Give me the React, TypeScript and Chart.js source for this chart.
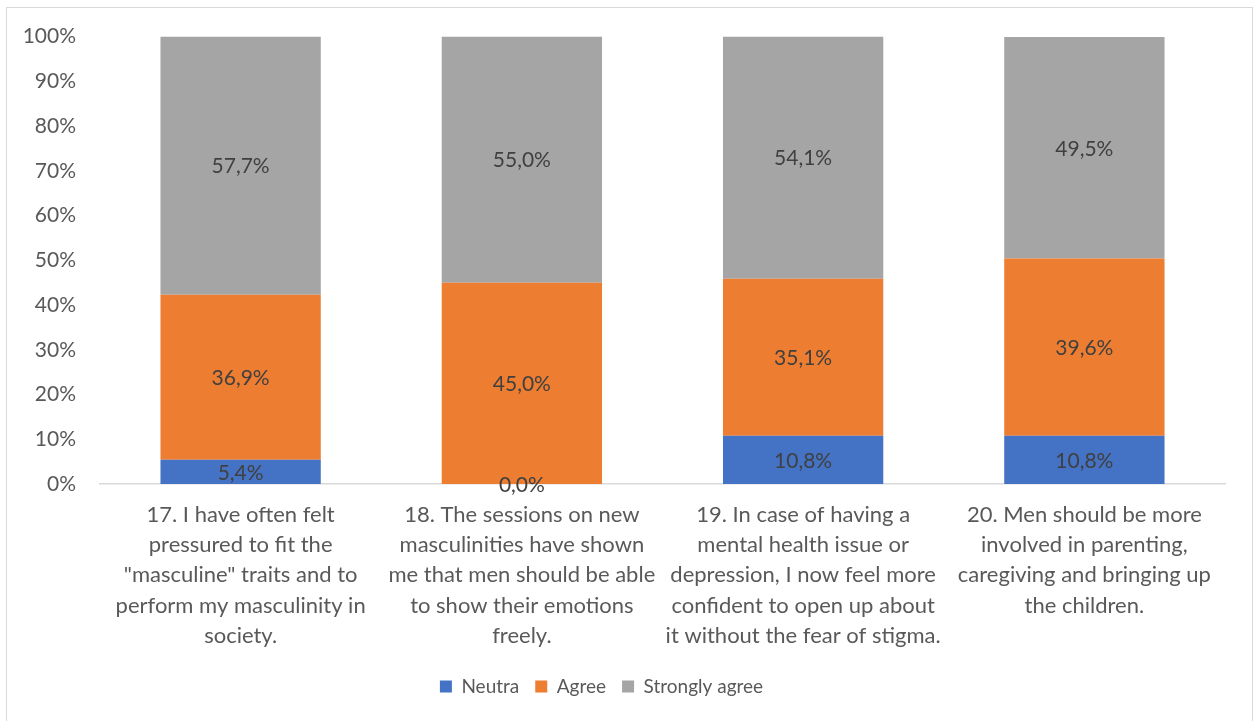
import React, { useEffect, useRef } from "react";
import { Chart, registerables } from "chart.js";

Chart.register(...registerables);

const categories: string[][] = [
  ["17. I have often felt", "pressured to fit the", "\"masculine\" traits and to", "perform my masculinity in", "society."],
  ["18. The sessions on new", "masculinities have shown", "me that men should be able", "to show their emotions", "freely."],
  ["19. In case of having a", "mental health issue or", "depression, I now feel more", "confident to open up about", "it without the fear of stigma."],
  ["20. Men should be more", "involved in parenting,", "caregiving and bringing up", "the children."],
];

const neutra = [5.4, 0.0, 10.8, 10.8];
const agree = [36.9, 45.0, 35.1, 39.6];
const stronglyAgree = [57.7, 55.0, 54.1, 49.5];

const yTicks = [0, 10, 20, 30, 40, 50, 60, 70, 80, 90, 100];

const FONT = "Lato, 'Open Sans', sans-serif";

const dataLabels = {
  id: "dataLabels",
  afterDatasetsDraw(chart: any) {
    const ctx = chart.ctx;
    ctx.save();
    ctx.font = `21px ${FONT}`;
    ctx.fillStyle = "#404040";
    ctx.textAlign = "center";
    ctx.textBaseline = "middle";
    chart.data.datasets.forEach((ds: any, di: number) => {
      const meta = chart.getDatasetMeta(di);
      meta.data.forEach((el: any, i: number) => {
        const v = ds.data[i] as number;
        const cy = (el.y + el.base) / 2;
        ctx.fillText(v.toFixed(1).replace(".", ",") + "%", el.x, cy + 1);
      });
    });
    ctx.restore();
  },
};

const legendShift = {
  id: "legendShift",
  afterLayout(chart: any) {
    const l = chart.legend;
    if (l) {
      l.left -= 11;
      l.right -= 11;
      l.top -= 1;
      l.bottom -= 1;
    }
  },
};

export default function App() {
  const ref = useRef<HTMLCanvasElement>(null);
  useEffect(() => {
    if (!ref.current) return;
    const chart = new Chart(ref.current, {
      type: "bar",
      data: {
        labels: categories,
        datasets: [
          { label: "Neutra", data: neutra, backgroundColor: "#4472C4", borderWidth: 0 },
          { label: "Agree", data: agree, backgroundColor: "#ED7D31", borderWidth: 0 },
          { label: "Strongly agree", data: stronglyAgree, backgroundColor: "#A5A5A5", borderWidth: 0 },
        ],
      },
      options: {
        animation: false,
        responsive: false,
        maintainAspectRatio: false,
        layout: { padding: { left: 0, right: 30, top: 36, bottom: 14 } },
        datasets: { bar: { categoryPercentage: 1, barPercentage: 0.57 } },
        scales: {
          x: {
            stacked: true,
            grid: { display: false, drawTicks: false },
            border: { display: true, color: "#d9d9d9", width: 1.5 },
            ticks: {
              color: "#595959",
              font: { family: FONT, size: 22, lineHeight: 1.37 },
              padding: 16,
              maxRotation: 0,
              autoSkip: false,
            },
            afterFit: (s: any) => { s.height = 178; },
          },
          y: {
            stacked: true,
            min: 0,
            max: 100,
            grid: { display: false, drawTicks: false },
            border: { display: false },
            afterBuildTicks: (s: any) => { s.ticks = yTicks.map((v) => ({ value: v })); },
            ticks: {
              color: "#595959",
              font: { family: FONT, size: 21 },
              padding: 24,
              callback: (v: any) => v + "%",
            },
            afterFit: (s: any) => { s.width = 100; },
          },
        },
        plugins: {
          legend: {
            position: "bottom",
            labels: {
              color: "#595959",
              font: { family: FONT, size: 19 },
              boxWidth: 12,
              boxHeight: 12,
              padding: 16,
            },
          },
          tooltip: { enabled: false },
        },
      },
      plugins: [dataLabels, legendShift],
    });
    return () => chart.destroy();
  }, []);
  return (
    <div style={{ position: "fixed", left: 0, top: 0, width: 1255, height: 721, background: "#fff", overflow: "hidden" }}>
      <div style={{ position: "absolute", left: 6, top: 7, width: 1245, height: 720, border: "1px solid #d9d9d9" }} />
      <canvas ref={ref} width={1255} height={721} style={{ position: "absolute", left: 0, top: 0 }} />
    </div>
  );
}
